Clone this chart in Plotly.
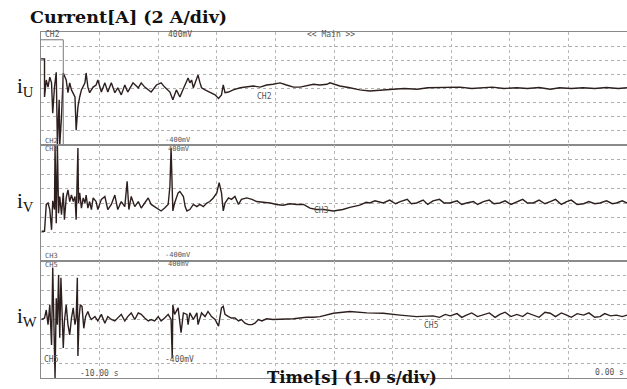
import plotly.graph_objects as go
from plotly.subplots import make_subplots

# ---------------- data (time in s, current in A) ----------------
t_u = [-10.00, -9.94, -9.94, -9.91, -9.88, -9.85, -9.82, -9.80, -9.77, -9.74, -9.72, -9.69, -9.68, -9.65,
       -9.62, -9.57, -9.54, -9.51, -9.48, -9.42, -9.40, -9.37, -9.34, -9.31, -9.25, -9.23, -9.20, -9.17,
       -9.11, -9.06, -9.03, -8.97, -8.91, -8.86, -8.80, -8.74, -8.69, -8.63, -8.57, -8.52, -8.43, -8.34,
       -8.29, -8.23, -8.12, -8.03, -7.95, -7.89, -7.80, -7.75, -7.69, -7.63, -7.58, -7.52, -7.49, -7.46,
       -7.43, -7.40, -7.34, -7.32, -7.29, -7.26, -7.20, -7.12, -7.03, -6.97, -6.92, -6.89, -6.86, -6.80,
       -6.72, -6.60, -6.49, -6.38, -6.26, -6.15, -6.04, -5.92, -5.81, -5.69, -5.58, -5.47, -5.35, -5.24,
       -5.12, -5.07, -4.90, -4.73, -4.56, -4.39, -4.20, -3.99, -3.80, -3.58, -3.40, -3.19, -3.00, -2.85,
       -2.65, -2.46, -2.30, -2.10, -1.88, -1.70, -1.50, -1.31, -1.15, -0.95, -0.75, -0.55, -0.35, -0.15, 0.00]
i_u = [4.2, 4.2, -1.2, 1.2, 0.2, 1.6, 0.8, -3.5, 0.2, 2.3, -8.0, -1.6, -8.0, -4.0,
       2.2, 1.2, -0.6, 0.8, -0.2, -1.2, -5.9, -2.6, -1.2, -0.2, 0.8, 2.2, 0.2, -0.6,
       0.2, 0.5, 1.2, -0.5, 0.8, -0.5, 0.8, -0.6, 0.1, -0.9, 0.5, -0.5, 0.8, 0.1,
       0.8, 0.2, -0.5, 0.5, 0.8, 0.2, -0.5, -1.6, -0.2, -1.2, -0.2, 0.9, 1.5, 0.8,
       1.2, 0.1, 1.6, 1.9, 0.9, 0.1, -0.2, -0.5, -0.9, -1.4, -0.9, 0.5, -0.6, -0.5,
       -0.2, 0.1, 0.2, 0.35, 0.2, 0.5, 0.6, 0.8, 0.5, 0.2, 0.2, 0.35, 0.6, 0.5,
       0.6, 0.8, 0.35, 0.1, -0.2, -0.35, -0.2, -0.1, 0.0, -0.1, 0.1, 0.1, 0.2, 0.2,
       0.0, 0.1, 0.2, 0.0, 0.1, 0.0, 0.15, -0.1, 0.1, 0.0, 0.1, 0.0, 0.15, 0.0, 0.1]

t_v = [-9.99, -9.94, -9.91, -9.88, -9.85, -9.82, -9.80, -9.77, -9.76, -9.74, -9.72, -9.70, -9.68, -9.65,
       -9.62, -9.60, -9.57, -9.54, -9.51, -9.48, -9.45, -9.42, -9.40, -9.37, -9.36, -9.34, -9.31, -9.28,
       -9.25, -9.23, -9.20, -9.17, -9.14, -9.11, -9.06, -9.03, -8.97, -8.91, -8.86, -8.80, -8.74, -8.69,
       -8.63, -8.57, -8.53, -8.50, -8.46, -8.40, -8.34, -8.29, -8.23, -8.17, -8.12, -8.06, -8.00, -7.95,
       -7.89, -7.83, -7.80, -7.78, -7.75, -7.72, -7.66, -7.63, -7.57, -7.54, -7.51, -7.46, -7.40, -7.34,
       -7.29, -7.23, -7.17, -7.12, -7.06, -7.00, -6.96, -6.92, -6.89, -6.86, -6.80, -6.75, -6.69, -6.63,
       -6.58, -6.49, -6.40, -6.32, -6.21, -6.09, -5.98, -5.87, -5.75, -5.64, -5.52, -5.41, -5.30, -5.18,
       -5.01, -4.85, -4.73, -4.56, -4.45, -4.39, -4.30, -4.16, -4.05, -3.95, -3.87, -3.75, -3.68, -3.59,
       -3.48, -3.40, -3.31, -3.20, -3.12, -3.02, -2.90, -2.82, -2.74, -2.62, -2.55, -2.45, -2.35, -2.27,
       -2.17, -2.08, -1.98, -1.88, -1.78, -1.70, -1.60, -1.50, -1.40, -1.31, -1.22, -1.12, -1.03, -0.95,
       -0.85, -0.74, -0.65, -0.55, -0.46, -0.35, -0.25, -0.18, -0.08, 0.00]
i_v = [-3.9, -3.9, -0.2, 0.0, -0.9, -3.7, 0.3, -0.9, 7.9, -2.8, 7.9, -1.4, 0.9, -1.6,
       1.4, -2.3, 0.7, 1.8, 0.2, 1.1, 0.2, 0.9, -2.3, 7.6, 0.0, 1.4, -0.7, 0.7,
       0.0, 1.1, -0.7, 0.2, -0.9, 0.7, 0.2, -0.9, 0.5, 0.9, -0.9, -0.2, 1.1, -0.9,
       0.2, -0.5, 3.0, -0.9, 0.9, -0.5, 0.2, -0.7, 0.0, 0.7, -0.2, -0.5, -0.9, -1.1,
       -0.7, -0.2, 2.3, 7.6, -1.1, 0.0, 1.4, 1.6, 0.9, -0.5, -1.1, -0.9, -0.2, -0.5,
       -0.2, -0.5, 0.0, 0.2, 0.7, 1.4, 2.8, 1.4, -1.1, 0.0, 0.7, 0.5, 0.9, -0.2,
       0.5, 0.7, 0.5, 0.2, 0.1, 0.0, -0.2, -0.3, -0.1, -0.2, -0.2, -0.7, -0.9, -0.9,
       -1.1, -0.9, -0.6, -0.3, 0.1, 0.0, 0.3, 0.0, 0.4, -0.1, 0.2, 0.5, -0.1, 0.0,
       0.4, -0.2, 0.3, 0.5, 0.0, 0.0, 0.3, -0.2, 0.0, 0.2, -0.2, 0.2, 0.4, -0.1,
       0.0, 0.3, -0.2, 0.2, 0.5, 0.0, 0.0, 0.4, -0.1, 0.2, 0.5, -0.2, 0.2, 0.4,
       -0.2, -0.1, 0.2, -0.1, 0.0, 0.3, -0.1, 0.0, 0.3, 0.0]

t_w = [-9.99, -9.94, -9.91, -9.88, -9.85, -9.82, -9.80, -9.78, -9.76, -9.74, -9.72, -9.70, -9.68, -9.66,
       -9.64, -9.62, -9.60, -9.57, -9.54, -9.51, -9.48, -9.45, -9.42, -9.40, -9.38, -9.37, -9.35, -9.33,
       -9.30, -9.27, -9.24, -9.20, -9.17, -9.14, -9.08, -9.03, -8.97, -8.91, -8.86, -8.80, -8.74, -8.69,
       -8.63, -8.57, -8.52, -8.46, -8.40, -8.34, -8.29, -8.23, -8.17, -8.12, -8.06, -8.00, -7.95, -7.89,
       -7.83, -7.78, -7.76, -7.75, -7.72, -7.66, -7.61, -7.57, -7.51, -7.49, -7.46, -7.40, -7.34, -7.32,
       -7.26, -7.20, -7.15, -7.09, -7.03, -6.97, -6.95, -6.92, -6.89, -6.86, -6.80, -6.75, -6.69, -6.63,
       -6.58, -6.52, -6.46, -6.40, -6.35, -6.29, -6.23, -6.15, -6.04, -5.92, -5.81, -5.69, -5.58, -5.47,
       -5.35, -5.24, -5.01, -4.73, -4.44, -4.16, -3.87, -3.59, -3.31, -3.20, -3.10, -3.02, -2.90, -2.82,
       -2.74, -2.65, -2.55, -2.45, -2.35, -2.25, -2.17, -2.08, -1.98, -1.88, -1.78, -1.70, -1.60, -1.50,
       -1.40, -1.31, -1.22, -1.12, -1.03, -0.95, -0.85, -0.74, -0.65, -0.55, -0.46, -0.38, -0.28, -0.18,
       -0.08, 0.00]
i_w = [0.0, 0.2, 1.3, -0.7, 2.0, -3.5, 7.1, -0.7, -8.0, 2.9, -0.7, 6.1, -2.5, 5.7,
       -0.7, -3.9, -0.2, 2.0, -0.7, -2.1, 0.2, 1.6, -0.7, 0.2, 5.7, -5.0, 0.2, 2.0,
       1.8, -1.2, 0.4, 1.1, 0.4, 0.0, 0.4, -0.2, 0.7, -0.5, 0.4, 0.0, -0.2, 0.2,
       0.7, -0.2, 0.4, 0.9, 0.0, 0.9, 0.7, 0.2, -0.2, 0.0, -0.2, 0.4, -0.2, 0.2,
       0.7, 0.0, -5.3, 2.0, 0.7, 1.6, -1.8, 0.9, 0.7, -0.7, 0.9, 0.0, 0.9, -0.7,
       0.9, 0.4, 1.1, 0.4, 0.0, -0.9, 0.4, 1.6, 1.8, 0.7, 0.4, 0.2, 0.2, -0.2,
       0.0, -0.5, -0.7, -0.7, -0.5, 0.0, -0.2, 0.1, 0.0, 0.0, 0.1, 0.1, 0.2, 0.3,
       0.3, 0.4, 0.85, 1.1, 0.9, 0.85, 0.6, 0.4, 0.5, 0.3, 0.7, 0.5, 0.8, 0.3,
       0.6, 0.9, 0.4, 0.6, 0.9, 0.3, 0.7, 1.0, 0.4, 0.7, 0.4, 0.9, 0.6, 0.3,
       1.0, 0.85, 0.4, 0.9, 0.6, 0.3, 0.8, 0.6, 0.9, 0.3, 0.4, 0.8, 0.5, 0.6,
       0.4, 0.6]

# zoom-window marker drawn by the scope on CH2
marker_t = [-10.00, -9.62, -9.62]
marker_i = [6.9, 6.9, -8.0]

channels = [("i<sub>U</sub>", t_u, i_u), ("i<sub>V</sub>", t_v, i_v), ("i<sub>W</sub>", t_w, i_w)]

# ---------------- figure ----------------
W, H = 627, 389
L, R, T, B = 41, 0, 32, 11
fig = make_subplots(rows=3, cols=1, shared_xaxes=True, vertical_spacing=0,
                    row_heights=[113, 116, 117])

trace_color = "#2e1f1f"
for k, (name, tt, ii) in enumerate(channels):
    fig.add_trace(go.Scatter(x=tt, y=ii, mode="lines", line=dict(color=trace_color, width=1.4),
                             showlegend=False, hoverinfo="skip"), row=k + 1, col=1)
fig.add_trace(go.Scatter(x=marker_t, y=marker_i, mode="lines", line=dict(color="#777", width=1),
                         showlegend=False, hoverinfo="skip"), row=1, col=1)

for k in range(3):
    fig.update_yaxes(range=[-8, 8], dtick=2, tick0=0, showticklabels=False, ticks="",
                     showgrid=True, gridcolor="#b0b0b0", griddash="dot", gridwidth=1,
                     zeroline=False, showline=True, linecolor="#8a8a8a", linewidth=1,
                     mirror=True, row=k + 1, col=1)
    fig.update_xaxes(range=[-10, 0], dtick=1, tick0=0, showticklabels=False, ticks="",
                     showgrid=True, gridcolor="#b8b8b8", griddash="dot", gridwidth=1,
                     zeroline=False, showline=True, linecolor="#8a8a8a", linewidth=1,
                     mirror=True, row=k + 1, col=1)

pw, ph = W - L - R, H - T - B
def px(x):
    return (x - L) / pw
def py(y):
    return (H - B - y) / ph

ann = []
def text(x, y, s, size=8, color="#555", family="DejaVu Sans Mono", xanchor="left", yanchor="middle"):
    ann.append(dict(x=px(x), y=py(y), xref="paper", yref="paper", text=s, showarrow=False,
                    xanchor=xanchor, yanchor=yanchor,
                    font=dict(size=size, color=color, family=family)))

serif = "DejaVu Serif"
text(28, 17, "<b>Current[A] (2 A/div)</b>", size=17.5, color="#111", family=serif)
text(265, 389, "<b>Time[s] (1.0 s/div)</b>", size=16.5, color="#111", family=serif, yanchor="bottom")
for name, yc in zip([c[0] for c in channels], [87, 202, 317]):
    text(15, yc, name, size=21, color="#111", family="Liberation Serif")

# scope annotations
text(43, 35, "CH2")
text(166, 35, "400mV")
text(305, 34, "&lt;&lt; Main &gt;&gt;")
text(255, 96, "CH2")
text(43, 141, "CH2", size=7)
text(43, 149, "CH3", size=7)
text(163, 140, "-400mV", size=7)
text(166, 149, "400mV", size=7)
text(312, 211, "CH3")
text(43, 256, "CH3", size=7)
text(43, 265, "CH5", size=7)
text(163, 255, "-400mV", size=7)
text(166, 264, "400mV", size=7)
text(422, 325, "CH5")
text(42, 359, "CH5")
text(163, 359, "-400mV")
text(78, 373, "-10.00 s")
text(626, 372, "0.00 s", xanchor="right")

fig.update_layout(width=W, height=H, margin=dict(l=L, r=R, t=T, b=B),
                  paper_bgcolor="white", plot_bgcolor="white", annotations=ann)
fig.write_html("out.html")
